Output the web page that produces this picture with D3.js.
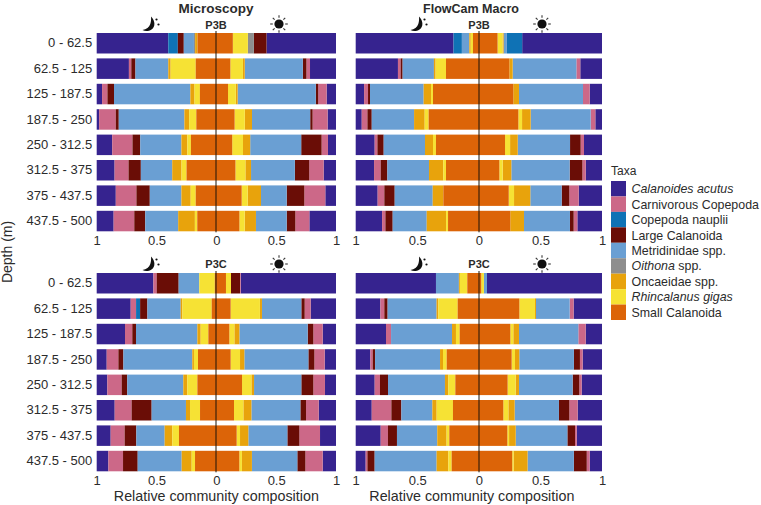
<!DOCTYPE html>
<html>
<head>
<meta charset="utf-8">
<script src="https://cdn.jsdelivr.net/npm/d3@7"></script>
<style>
  html, body { margin: 0; padding: 0; background: #fff; }
  svg { display: block; font-family: "Liberation Sans", Arial, sans-serif; }
</style>
</head>
<body>
<svg id="chart" width="761" height="505"></svg>
<script>
const depths = ["0 - 62.5", "62.5 - 125", "125 - 187.5", "187.5 - 250", "250 - 312.5", "312.5 - 375", "375 - 437.5", "437.5 - 500"];
const taxa = ["Calanoides acutus", "Carnivorous Copepoda", "Copepoda nauplii", "Large Calanoida", "Metridinidae spp.", "Oithona spp.", "Oncaeidae spp.", "Rhincalanus gigas", "Small Calanoida"];
const taxaItalicPart = ["Calanoides acutus", "", "", "", "", "Oithona", "", "Rhincalanus gigas", ""];
const taxaColors = ["#36238f", "#cc6888", "#0f72b5", "#6a0d06", "#6a9fd3", "#8e8e8e", "#e8a30c", "#f6e234", "#dc6408"];
const axisTicks = [1, 0.5, 0, 0.5, 1];

// Each row lists taxa from the outer edge of the bar to its centre, in the order of `taxa`.
const microP3BNight = [
  [.600, 0, .080, .050, .085, .010, .020, 0, .155],
  [.270, .020, 0, .035, .275, 0, .020, .210, .170],
  [.045, .045, 0, .055, .640, 0, .035, .045, .135],
  [.020, .140, 0, .025, .550, 0, .040, .060, .165],
  [.130, .170, 0, .065, .345, 0, .050, .030, .210],
  [.150, .117, 0, .103, .263, 0, .078, .042, .247],
  [.160, .173, 0, .112, .265, 0, .078, .042, .170],
  [.142, .173, 0, .092, .276, 0, .140, .020, .157]
];
const microP3BDay = [
  [.578, 0, 0, .105, 0, .050, 0, .125, .140],
  [.217, .030, 0, .030, .485, 0, .015, .105, .120],
  [.078, .070, 0, .020, .650, 0, .015, .065, .100],
  [.070, .125, 0, .020, .485, 0, .060, .085, .155],
  [.067, .053, 0, .170, .425, 0, .060, .090, .135],
  [.103, .120, 0, .120, .365, 0, .047, .083, .162],
  [.089, .175, 0, .147, .214, 0, .111, .050, .214],
  [.222, .117, 0, .072, .256, 0, .094, .044, .195]
];
const flowP3BNight = [
  [.795, 0, .068, 0, .060, 0, .012, .018, .049],
  [.343, .022, 0, .016, .254, 0, .014, .084, .268],
  [.068, .032, 0, .016, .435, 0, .060, .016, .373],
  [.049, .046, 0, .035, .343, 0, .086, .032, .408],
  [.154, .022, 0, .051, .335, 0, .065, .024, .349],
  [.149, .054, 0, .054, .338, 0, .116, .022, .268],
  [.178, .054, 0, .084, .308, 0, .086, 0, .289],
  [.214, .027, 0, .059, .276, 0, .157, .016, .251]
];
const flowP3BDay = [
  [.649, 0, .124, 0, .027, 0, .009, .040, .151],
  [.176, .032, 0, 0, .516, 0, .027, 0, .246],
  [.100, .054, 0, 0, .519, 0, .046, 0, .278],
  [.054, .038, 0, 0, .486, 0, .070, .030, .319],
  [.146, .027, 0, .086, .424, 0, .062, .041, .211],
  [.132, .027, 0, .103, .473, 0, .070, .027, .165],
  [.189, .076, 0, .062, .254, 0, .132, .043, .241],
  [.200, .030, 0, .030, .373, 0, .111, 0, .254]
];
const microP3CNight = [
  [.475, .028, 0, .184, .173, 0, 0, .130, .010],
  [.285, .045, .034, .061, .279, 0, .014, .246, .036],
  [.237, .061, 0, .031, .514, 0, .028, .064, .064],
  [.084, .098, 0, .042, .578, 0, .014, .034, .151],
  [.089, .120, 0, .047, .469, 0, .034, .084, .156],
  [.151, .142, 0, .168, .288, 0, .034, .084, .134],
  [.117, .117, 0, .098, .237, 0, .064, .056, .310],
  [.098, .123, 0, .123, .369, 0, .084, .028, .176]
];
const microP3CDay = [
  [.794, .006, 0, .075, 0, 0, 0, .042, .083],
  [.211, .050, 0, .028, .328, 0, .017, .244, .122],
  [.111, .078, 0, .047, .569, 0, .042, .042, .111],
  [.094, .086, 0, .050, .533, 0, .036, .078, .122],
  [.092, .097, 0, .100, .394, 0, .022, .078, .217],
  [.144, .106, 0, .047, .408, 0, .067, .078, .150],
  [.133, .172, 0, .100, .325, 0, .069, .028, .172],
  [.111, .144, 0, .067, .378, 0, .083, .022, .194]
];
const flowP3CNight = [
  [.651, 0, 0, 0, .186, 0, .008, .060, .095],
  [.200, .032, 0, .027, .397, 0, .014, .157, .173],
  [.246, .041, 0, 0, .495, 0, .032, .030, .157],
  [.119, .019, 0, .019, .527, 0, .024, .030, .262],
  [.154, .043, 0, .065, .462, 0, .027, .057, .192],
  [.130, .159, 0, .081, .251, 0, .035, .132, .211],
  [.203, .059, 0, .073, .327, 0, .076, .022, .241],
  [.081, .014, 0, .059, .503, 0, .095, .027, .222]
];
const flowP3CDay = [
  [.935, 0, 0, 0, .025, 0, 0, .022, .018],
  [.230, .032, 0, 0, .273, 0, .008, .127, .327],
  [.132, .060, 0, 0, .481, 0, .046, .024, .254],
  [.157, .022, 0, .049, .443, 0, .035, .027, .265],
  [.165, .019, 0, .054, .435, 0, .027, .065, .232],
  [.197, .068, 0, .084, .359, 0, .051, .041, .197],
  [.205, .014, 0, .062, .419, 0, .054, .014, .230],
  [.100, .024, 0, .105, .376, 0, .114, .011, .270]
];

const panels = [
  { night: microP3BNight, day: microP3BDay, station: "P3B", left: 96.7, mid: 216, right: 336, top: 33, title: "Microscopy", titleX: 216, titleSize: 13.5 },
  { night: flowP3BNight, day: flowP3BDay, station: "P3B", left: 355.7, mid: 479, right: 602, top: 33, title: "FlowCam Macro", titleX: 471, titleSize: 12.5 },
  { night: microP3CNight, day: microP3CDay, station: "P3C", left: 96.7, mid: 216, right: 336, top: 273, axisLabel: true },
  { night: flowP3CNight, day: flowP3CDay, station: "P3C", left: 355.7, mid: 479, right: 602, top: 273, axisLabel: true }
];

const svg = d3.select("#chart");
const inkColor = "#2b2b2b";
const plotHeight = 198.3;
const stack = d3.stack()
  .keys(d3.range(taxa.length))
  .value((row, i) => row[i])
  .offset(d3.stackOffsetExpand);

// Crescent with two stars, and a rayed sun, marking the night and day halves.
function drawMoon(g, x, y) {
  const m = g.append("g").attr("transform", `translate(${x},${y})`).attr("fill", "#111");
  m.append("path").attr("d", "M1,-7.5 C5.5,-3 5.5,3 1.5,5.5 C-1.5,7.5 -5,7.5 -7.5,6 C-3.5,5.5 -0.8,3 0.3,0 C1.2,-3 1.2,-5 1,-7.5Z");
  m.append("circle").attr("cx", 6.5).attr("cy", -4.5).attr("r", 1.1);
  m.append("circle").attr("cx", 8.5).attr("cy", 0.5).attr("r", 1.1);
}
function drawSun(g, x, y) {
  const s = g.append("g").attr("transform", `translate(${x},${y})`);
  s.append("circle").attr("r", 4.6).attr("fill", "#111");
  d3.range(8).forEach(i => {
    const a = i * Math.PI / 4;
    s.append("line")
      .attr("x1", 6.2 * Math.cos(a)).attr("y1", 6.2 * Math.sin(a))
      .attr("x2", 8.8 * Math.cos(a)).attr("y2", 8.8 * Math.sin(a))
      .attr("stroke", "#333").attr("stroke-width", 1.1);
  });
}

panels.forEach((p, pi) => {
  const g = svg.append("g");
  const y = d3.scaleBand().domain(depths).range([p.top, p.top + plotHeight]).paddingInner(0.193);
  const sides = [
    { rows: p.night, x: d3.scaleLinear().domain([0, 1]).range([p.left, p.mid]) },
    { rows: p.day, x: d3.scaleLinear().domain([0, 1]).range([p.right, p.mid]) }
  ];

  sides.forEach(side => {
    g.append("g").selectAll("g")
      .data(stack(side.rows))
      .join("g")
      .attr("fill", (d, i) => taxaColors[i])
      .selectAll("rect")
      .data(d => d)
      .join("rect")
      .attr("x", d => Math.min(side.x(d[0]), side.x(d[1])))
      .attr("width", d => Math.abs(side.x(d[1]) - side.x(d[0])))
      .attr("y", (d, i) => y(depths[i]))
      .attr("height", y.bandwidth());
  });

  // Centre line separating night from day.
  g.append("line")
    .attr("x1", p.mid).attr("x2", p.mid)
    .attr("y1", p.top - 2).attr("y2", p.top + plotHeight + 1)
    .attr("stroke", "#1a1208").attr("stroke-width", 1);

  // Depth axis only beside the left-hand panels.
  if (p.left < 200) {
    const yAxis = g.append("g").attr("transform", `translate(${p.left - 4.5},0)`)
      .call(d3.axisLeft(y).tickSize(0).tickPadding(0));
    yAxis.select(".domain").remove();
    yAxis.selectAll("text").attr("font-size", 13).attr("font-family", "inherit").attr("fill", inkColor);
  }

  // Composition axis, with values running 1 - 0 - 1 out from the centre.
  const xPos = d3.scalePoint().domain(d3.range(axisTicks.length)).range([p.left, p.right]);
  const xAxis = g.append("g").attr("transform", `translate(0,${p.top + plotHeight + 1})`)
    .call(d3.axisBottom(xPos).tickSize(0).tickPadding(3).tickFormat(i => axisTicks[i]));
  xAxis.select(".domain").remove();
  xAxis.selectAll("text").attr("font-size", 13).attr("font-family", "inherit").attr("fill", inkColor);

  if (p.title) {
    svg.append("text").attr("x", p.titleX).attr("y", 12.5).attr("text-anchor", "middle")
      .attr("font-weight", "bold").attr("font-size", p.titleSize).attr("fill", inkColor).text(p.title);
  }
  svg.append("text").attr("x", p.mid).attr("y", p.top - (p.top > 100 ? 5.5 : 4.5)).attr("text-anchor", "middle")
    .attr("font-weight", "bold").attr("font-size", 11).attr("fill", inkColor).text(p.station);
  drawMoon(g, p.mid - 66 + (p.left > 200 ? 5 : 0), p.top - 9);
  drawSun(g, p.mid + 63, p.top - 9);

  if (p.axisLabel) {
    svg.append("text").attr("x", (p.left + p.right) / 2 + (p.left > 200 ? -7 : 0)).attr("y", 500.5)
      .attr("text-anchor", "middle").attr("font-size", 14.3).attr("fill", inkColor)
      .text("Relative community composition");
  }
});

svg.append("text")
  .attr("transform", "translate(12,252) rotate(-90)")
  .attr("text-anchor", "middle").attr("font-size", 14).attr("fill", inkColor)
  .text("Depth (m)");

// Legend of taxa with italic genus and species names.
const legendY = d3.scaleBand().domain(taxa).range([181, 320]);
const legend = svg.append("g");
legend.append("text").attr("x", 611).attr("y", 174.5).attr("font-size", 12).attr("fill", inkColor).text("Taxa");
legend.selectAll("rect").data(taxa).join("rect")
  .attr("x", 611).attr("width", 15)
  .attr("y", d => legendY(d)).attr("height", legendY.bandwidth())
  .attr("fill", (d, i) => taxaColors[i]);
const labels = legend.selectAll("text.item").data(taxa).join("text")
  .attr("class", "item")
  .attr("x", 631.5)
  .attr("y", d => legendY(d) + legendY.bandwidth() / 2 + 4.5)
  .attr("font-size", 12.4)
  .attr("fill", inkColor);
labels.each(function (d, i) {
  const t = d3.select(this);
  const part = taxaItalicPart[i];
  if (part) {
    t.append("tspan").attr("font-style", "italic").text(part);
    t.append("tspan").text(d.slice(part.length));
  } else {
    t.text(d);
  }
});
</script>
</body>
</html>
